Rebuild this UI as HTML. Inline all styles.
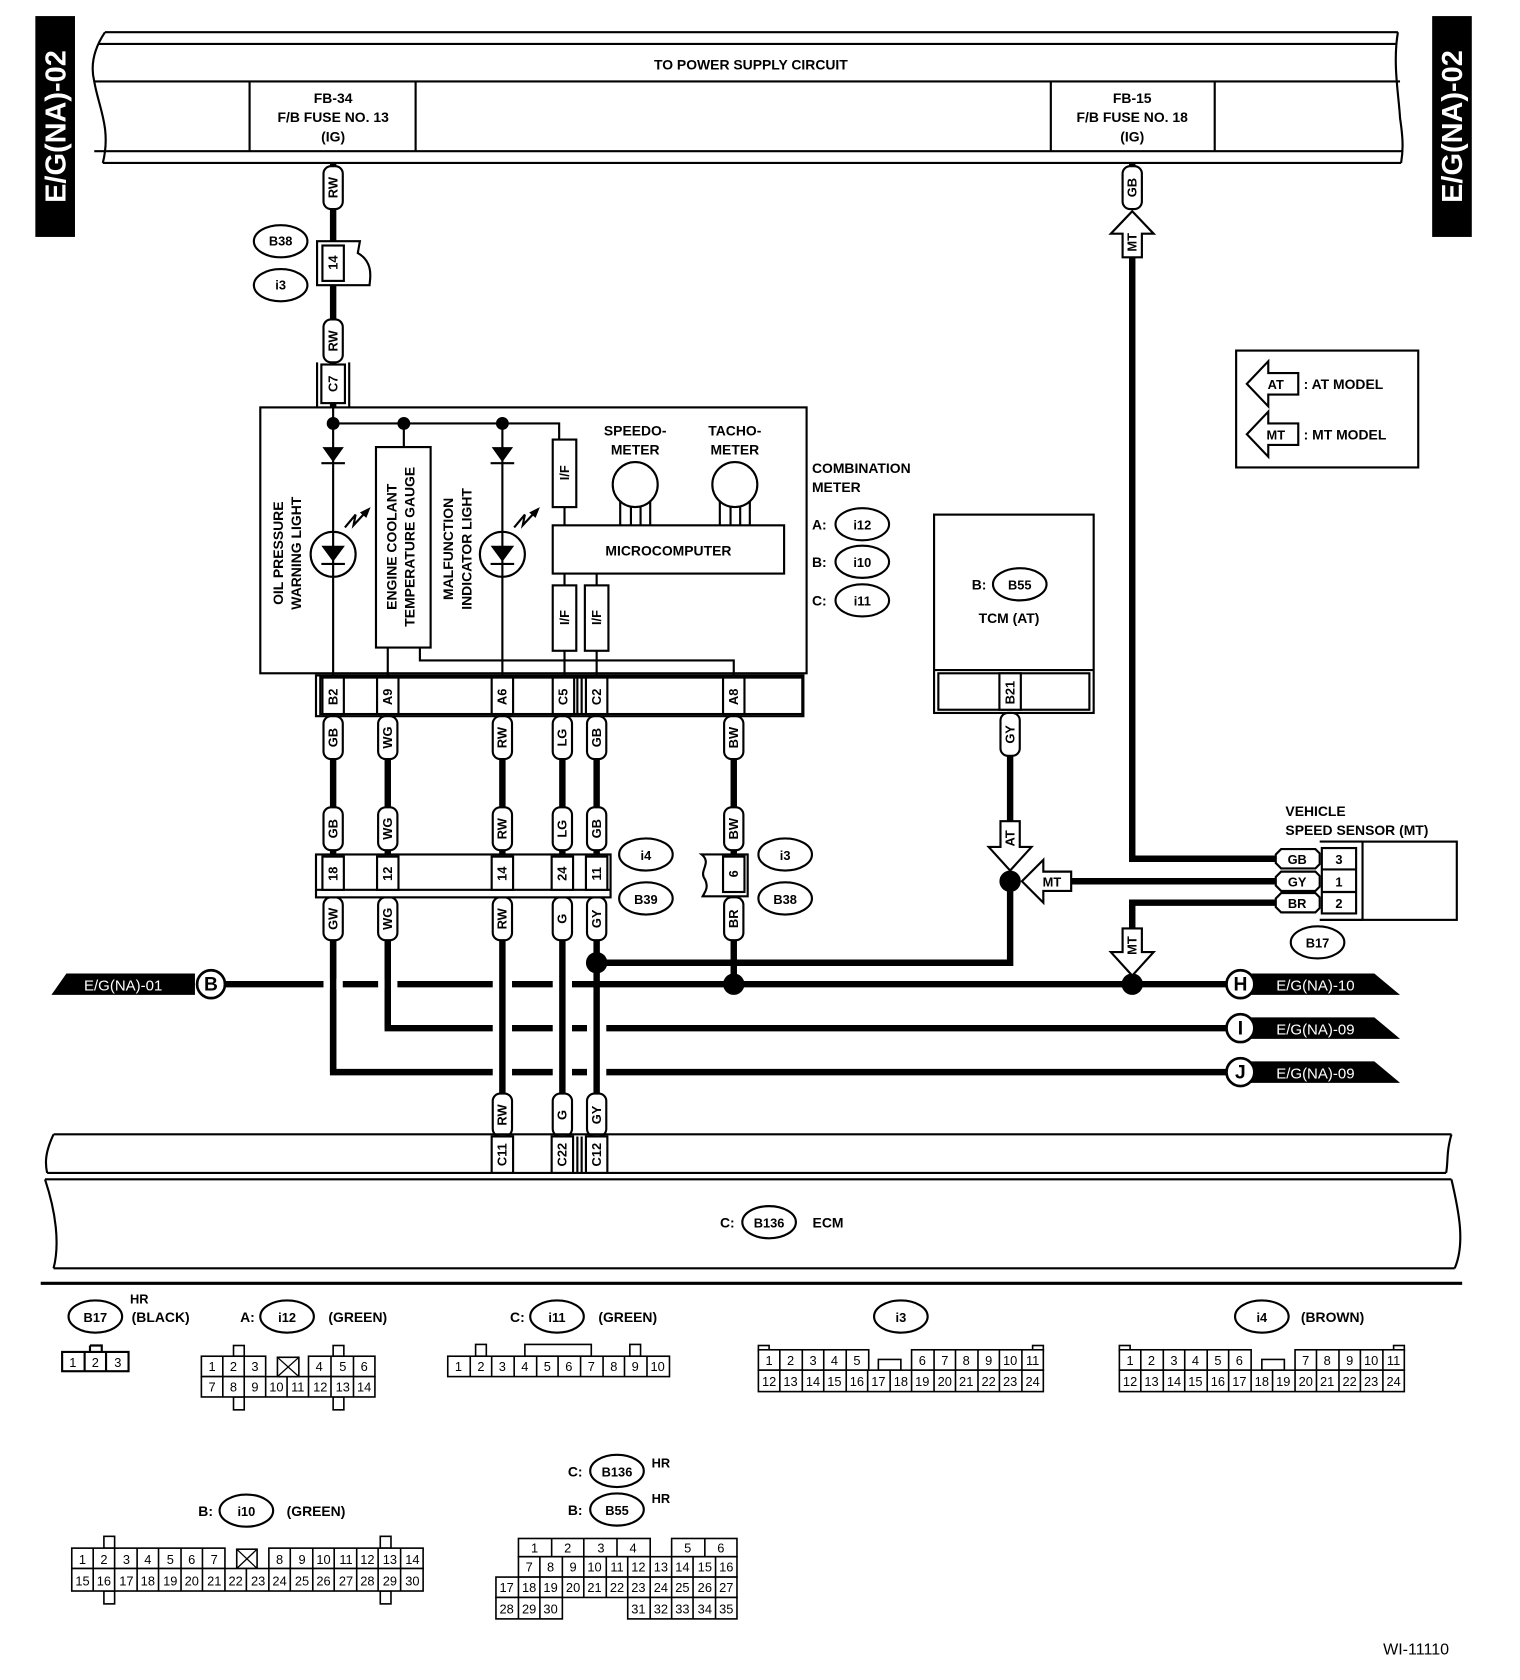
<!DOCTYPE html>
<html><head><meta charset="utf-8">
<style>
html,body{margin:0;padding:0;background:#fff;}
svg{display:block;}
text{font-family:"Liberation Sans",Arial,sans-serif;font-weight:bold;fill:#000;}
.t{font-size:13px;text-anchor:middle;}
.s{font-size:12px;text-anchor:middle;}
.g{font-size:12px;text-anchor:middle;font-weight:normal;}
.ln{stroke:#000;stroke-width:2;fill:none;}
.w{stroke:#000;stroke-width:6;fill:none;}
.cap{fill:#fff;stroke:#000;stroke-width:2;}
</style></head>
<body>
<svg width="1520" height="1680" viewBox="0 0 1419 1567" preserveAspectRatio="none" xmlns="http://www.w3.org/2000/svg">
<rect x="0" y="0" width="1419" height="1567" fill="#fff"/>

<!-- side tabs -->
<rect x="33" y="15" width="37" height="206" fill="#000"/>
<text transform="translate(61,118) rotate(-90)" style="font-size:27px;fill:#fff;text-anchor:middle">E/G(NA)-02</text>
<rect x="1337" y="15" width="37" height="206" fill="#000"/>
<text transform="translate(1365,118) rotate(-90)" style="font-size:27px;fill:#fff;text-anchor:middle">E/G(NA)-02</text>

<!-- power supply box -->
<path class="ln" d="M98,30 L1305,30 M92,41 L1303,41 M88,76 L1307,76 M88,141 L1310,141 M96,152 L1308,152"/>
<path class="ln" d="M98,30 C88,45 84,60 88,76 C92,100 104,120 96,152"/>
<path class="ln" d="M1305,30 C1300,60 1306,90 1307,110 C1310,130 1310,140 1308,152"/>
<path class="ln" d="M233,76 V141 M388,76 V141 M981,76 V141 M1134,76 V141"/>
<text class="t" x="701" y="65">TO POWER SUPPLY CIRCUIT</text>
<text class="t" x="311" y="96">FB-34</text>
<text class="t" x="311" y="114">F/B FUSE NO. 13</text>
<text class="t" x="311" y="132">(IG)</text>
<text class="t" x="1057" y="96">FB-15</text>
<text class="t" x="1057" y="114">F/B FUSE NO. 18</text>
<text class="t" x="1057" y="132">(IG)</text>

<!-- RW wire from FB-34 -->
<path class="w" d="M311,152 V380"/>
<g transform="translate(311,175)"><rect class="cap" x="-9" y="-20" width="18" height="40" rx="7"/><text transform="rotate(-90)" class="s" y="4">RW</text></g>
<path d="M296,225 H336 L334,236 C350,245 345,262 345,266 H296 Z" fill="#fff" stroke="#000" stroke-width="2"/>
<rect x="301" y="229" width="20" height="33" fill="#fff" stroke="#000" stroke-width="2"/>
<text transform="translate(315,245) rotate(-90)" class="s">14</text>
<ellipse cx="262" cy="225" rx="25" ry="15" fill="#fff" stroke="#000" stroke-width="2"/><text class="s" x="262" y="229">B38</text>
<ellipse cx="262" cy="266" rx="25" ry="15" fill="#fff" stroke="#000" stroke-width="2"/><text class="s" x="262" y="270">i3</text>
<g transform="translate(311,318)"><rect class="cap" x="-9" y="-20" width="18" height="40" rx="7"/><text transform="rotate(-90)" class="s" y="4">RW</text></g>
<path class="ln" d="M296,338 V380 M326,338 V380"/>
<rect x="300" y="340" width="22" height="36" fill="#fff" stroke="#000" stroke-width="2"/>
<text transform="translate(315,358) rotate(-90)" class="s">C7</text>

<!-- combination meter -->
<rect x="243" y="380" width="510" height="248" fill="none" stroke="#000" stroke-width="2"/>
<path class="ln" d="M311,380 V630 M311,395 H522 V410"/>
<circle cx="311" cy="395" r="6"/><circle cx="377" cy="395" r="6"/><circle cx="469" cy="395" r="6"/>
<path d="M301,417 H321 L311,431 Z"/><path class="ln" d="M300,432 H322"/>
<path d="M459,417 H479 L469,431 Z"/><path class="ln" d="M458,432 H480"/>
<circle cx="311" cy="517" r="21" fill="none" stroke="#000" stroke-width="2"/>
<path d="M300,509 H322 L311,524 Z"/><path class="ln" d="M300,526 H322"/>
<circle cx="469" cy="517" r="21" fill="none" stroke="#000" stroke-width="2"/>
<path d="M458,509 H480 L469,524 Z"/><path class="ln" d="M458,526 H480"/>
<path class="ln" d="M322,492 L332,480 L330,490 L342,477"/><path d="M346,473 L336,478 L342,483 Z"/>
<path class="ln" d="M480,492 L490,480 L488,490 L500,477"/><path d="M504,473 L494,478 L500,483 Z"/>
<path class="ln" d="M469,395 V630"/>
<path class="ln" d="M377,395 V417"/>
<rect x="351" y="417" width="51" height="187" fill="#fff" stroke="#000" stroke-width="2"/>
<text transform="translate(370,510) rotate(-90)" class="t">ENGINE COOLANT</text>
<text transform="translate(387,510) rotate(-90)" class="t">TEMPERATURE GAUGE</text>
<path class="ln" d="M362,604 V630 M392,604 V616 H685 V630"/>
<text transform="translate(264,516) rotate(-90)" class="t">OIL PRESSURE</text>
<text transform="translate(281,516) rotate(-90)" class="t">WARNING LIGHT</text>
<text transform="translate(423,512) rotate(-90)" class="t">MALFUNCTION</text>
<text transform="translate(440,512) rotate(-90)" class="t">INDICATOR LIGHT</text>
<rect x="516" y="410" width="22" height="63" fill="#fff" stroke="#000" stroke-width="2"/>
<text transform="translate(531,441) rotate(-90)" class="s">I/F</text>
<path class="ln" d="M527,473 V490"/>
<rect x="516" y="490" width="216" height="45" fill="#fff" stroke="#000" stroke-width="2"/>
<text class="t" x="624" y="518">MICROCOMPUTER</text>
<circle cx="593" cy="452" r="21" fill="#fff" stroke="#000" stroke-width="2"/>
<circle cx="686" cy="452" r="21" fill="#fff" stroke="#000" stroke-width="2"/>
<path class="ln" d="M579,467 V490 M589,473 V490 M598,473 V490 M607,467 V490 M672,467 V490 M682,473 V490 M691,473 V490 M700,467 V490"/>
<text class="t" x="593" y="406">SPEEDO-</text><text class="t" x="593" y="424">METER</text>
<text class="t" x="686" y="406">TACHO-</text><text class="t" x="686" y="424">METER</text>
<path class="ln" d="M527,535 V546 M557,535 V546"/>
<rect x="516" y="546" width="22" height="61" fill="#fff" stroke="#000" stroke-width="2"/>
<rect x="546" y="546" width="22" height="61" fill="#fff" stroke="#000" stroke-width="2"/>
<text transform="translate(531,576) rotate(-90)" class="s">I/F</text>
<text transform="translate(561,576) rotate(-90)" class="s">I/F</text>
<path class="ln" d="M527,607 V630 M557,607 V630"/>
<text class="t" x="758" y="441" style="text-anchor:start">COMBINATION</text>
<text class="t" x="758" y="459" style="text-anchor:start">METER</text>
<text class="t" x="758" y="494" style="text-anchor:start">A:</text>
<text class="t" x="758" y="529" style="text-anchor:start">B:</text>
<text class="t" x="758" y="565" style="text-anchor:start">C:</text>
<ellipse cx="805" cy="489" rx="25" ry="15" fill="#fff" stroke="#000" stroke-width="2"/><text class="s" x="805" y="494">i12</text>
<ellipse cx="805" cy="524" rx="25" ry="15" fill="#fff" stroke="#000" stroke-width="2"/><text class="s" x="805" y="529">i10</text>
<ellipse cx="805" cy="560" rx="25" ry="15" fill="#fff" stroke="#000" stroke-width="2"/><text class="s" x="805" y="565">i11</text>
<rect x="295" y="630" width="455" height="38" fill="#fff" stroke="#000" stroke-width="2"/>
<rect x="299" y="632" width="450" height="34" fill="none" stroke="#000" stroke-width="2"/>
<g fill="#fff" stroke="#000" stroke-width="2">
<rect x="301" y="632" width="20" height="34"/><rect x="352" y="632" width="20" height="34"/>
<rect x="459" y="632" width="20" height="34"/><rect x="516" y="632" width="20" height="34"/>
<rect x="547" y="632" width="20" height="34"/><rect x="675" y="632" width="20" height="34"/></g>
<path class="ln" d="M539,632 V666 M543,632 V666"/>
<text transform="translate(315,650) rotate(-90)" class="s">B2</text>
<text transform="translate(366,650) rotate(-90)" class="s">A9</text>
<text transform="translate(473,650) rotate(-90)" class="s">A6</text>
<text transform="translate(530,650) rotate(-90)" class="s">C5</text>
<text transform="translate(561,650) rotate(-90)" class="s">C2</text>
<text transform="translate(689,650) rotate(-90)" class="s">A8</text>

<!-- wires below meter -->
<path class="w" d="M311,668 V797 M362,668 V797 M469,668 V797 M525,668 V797 M557,668 V797 M685,668 V797"/>
<path class="w" d="M210,918 H1150"/>
<path class="w" d="M362,836 V959 H1150"/>
<path class="w" d="M311,836 V1000 H1150"/>
<!-- crossing gaps -->
<g fill="#fff">
<rect x="302" y="913" width="18" height="10"/><rect x="353" y="913" width="18" height="10"/>
<rect x="460" y="913" width="18" height="10"/><rect x="516" y="913" width="18" height="10"/>
<rect x="460" y="954" width="18" height="10"/><rect x="516" y="954" width="18" height="10"/><rect x="548" y="954" width="18" height="10"/>
<rect x="460" y="995" width="18" height="10"/><rect x="516" y="995" width="18" height="10"/><rect x="548" y="995" width="18" height="10"/>
</g>
<path class="w" d="M311,836 V1000 M362,836 V959 M469,836 V1020 M525,836 V1020 M557,836 V1020 M685,836 V918"/>
<path class="w" d="M557,898 H943 V830"/>
<circle cx="557" cy="898" r="10"/><circle cx="685" cy="918" r="10"/><circle cx="1057" cy="918" r="10"/>

<g transform="translate(311,688)"><rect class="cap" x="-9" y="-20" width="18" height="40" rx="7"/><text transform="rotate(-90)" class="s" y="4">GB</text></g>
<g transform="translate(362,688)"><rect class="cap" x="-9" y="-20" width="18" height="40" rx="7"/><text transform="rotate(-90)" class="s" y="4">WG</text></g>
<g transform="translate(469,688)"><rect class="cap" x="-9" y="-20" width="18" height="40" rx="7"/><text transform="rotate(-90)" class="s" y="4">RW</text></g>
<g transform="translate(525,688)"><rect class="cap" x="-9" y="-20" width="18" height="40" rx="7"/><text transform="rotate(-90)" class="s" y="4">LG</text></g>
<g transform="translate(557,688)"><rect class="cap" x="-9" y="-20" width="18" height="40" rx="7"/><text transform="rotate(-90)" class="s" y="4">GB</text></g>
<g transform="translate(685,688)"><rect class="cap" x="-9" y="-20" width="18" height="40" rx="7"/><text transform="rotate(-90)" class="s" y="4">BW</text></g>

<g transform="translate(311,773)"><rect class="cap" x="-9" y="-20" width="18" height="40" rx="7"/><text transform="rotate(-90)" class="s" y="4">GB</text></g>
<g transform="translate(362,773)"><rect class="cap" x="-9" y="-20" width="18" height="40" rx="7"/><text transform="rotate(-90)" class="s" y="4">WG</text></g>
<g transform="translate(469,773)"><rect class="cap" x="-9" y="-20" width="18" height="40" rx="7"/><text transform="rotate(-90)" class="s" y="4">RW</text></g>
<g transform="translate(525,773)"><rect class="cap" x="-9" y="-20" width="18" height="40" rx="7"/><text transform="rotate(-90)" class="s" y="4">LG</text></g>
<g transform="translate(557,773)"><rect class="cap" x="-9" y="-20" width="18" height="40" rx="7"/><text transform="rotate(-90)" class="s" y="4">GB</text></g>
<g transform="translate(685,773)"><rect class="cap" x="-9" y="-20" width="18" height="40" rx="7"/><text transform="rotate(-90)" class="s" y="4">BW</text></g>

<g transform="translate(311,857)"><rect class="cap" x="-9" y="-20" width="18" height="40" rx="7"/><text transform="rotate(-90)" class="s" y="4">GW</text></g>
<g transform="translate(362,857)"><rect class="cap" x="-9" y="-20" width="18" height="40" rx="7"/><text transform="rotate(-90)" class="s" y="4">WG</text></g>
<g transform="translate(469,857)"><rect class="cap" x="-9" y="-20" width="18" height="40" rx="7"/><text transform="rotate(-90)" class="s" y="4">RW</text></g>
<g transform="translate(525,857)"><rect class="cap" x="-9" y="-20" width="18" height="40" rx="7"/><text transform="rotate(-90)" class="s" y="4">G</text></g>
<g transform="translate(557,857)"><rect class="cap" x="-9" y="-20" width="18" height="40" rx="7"/><text transform="rotate(-90)" class="s" y="4">GY</text></g>
<g transform="translate(685,857)"><rect class="cap" x="-9" y="-20" width="18" height="40" rx="7"/><text transform="rotate(-90)" class="s" y="4">BR</text></g>

<g transform="translate(469,1040)"><rect class="cap" x="-9" y="-20" width="18" height="40" rx="7"/><text transform="rotate(-90)" class="s" y="4">RW</text></g>
<g transform="translate(525,1040)"><rect class="cap" x="-9" y="-20" width="18" height="40" rx="7"/><text transform="rotate(-90)" class="s" y="4">G</text></g>
<g transform="translate(557,1040)"><rect class="cap" x="-9" y="-20" width="18" height="40" rx="7"/><text transform="rotate(-90)" class="s" y="4">GY</text></g>

<!-- i4/B39 connector -->
<rect x="295" y="797" width="275" height="40" fill="#fff" stroke="#000" stroke-width="2"/>
<path class="ln" d="M295,830 H570"/>
<g fill="#fff" stroke="#000" stroke-width="2">
<rect x="301" y="799" width="20" height="31"/><rect x="352" y="799" width="20" height="31"/>
<rect x="459" y="799" width="20" height="31"/><rect x="515" y="799" width="20" height="31"/>
<rect x="547" y="799" width="20" height="31"/></g>
<text transform="translate(315,815) rotate(-90)" class="s">18</text>
<text transform="translate(366,815) rotate(-90)" class="s">12</text>
<text transform="translate(473,815) rotate(-90)" class="s">14</text>
<text transform="translate(529,815) rotate(-90)" class="s">24</text>
<text transform="translate(561,815) rotate(-90)" class="s">11</text>
<ellipse cx="603" cy="797" rx="25" ry="15" fill="#fff" stroke="#000" stroke-width="2"/><text class="s" x="603" y="802">i4</text>
<ellipse cx="603" cy="838" rx="25" ry="15" fill="#fff" stroke="#000" stroke-width="2"/><text class="s" x="603" y="843">B39</text>
<path d="M698,797 H655 C665,805 652,812 658,820 C662,828 658,832 656,836 H698 Z" fill="#fff" stroke="#000" stroke-width="2"/>
<rect x="675" y="799" width="20" height="33" fill="#fff" stroke="#000" stroke-width="2"/>
<text transform="translate(689,815) rotate(-90)" class="s">6</text>
<ellipse cx="733" cy="797" rx="25" ry="15" fill="#fff" stroke="#000" stroke-width="2"/><text class="s" x="733" y="802">i3</text>
<ellipse cx="733" cy="838" rx="25" ry="15" fill="#fff" stroke="#000" stroke-width="2"/><text class="s" x="733" y="843">B38</text>

<!-- E/G(NA)-01 B -->
<path d="M62,908 H182 V928 H48 Z" fill="#000"/>
<text x="115" y="924" style="font-size:14px;fill:#fff;text-anchor:middle;font-weight:normal">E/G(NA)-01</text>
<circle cx="197" cy="918" r="13" fill="#fff" stroke="#000" stroke-width="2.5"/><text x="197" y="924" style="font-size:18px;text-anchor:middle">B</text>

<path d="M1165,908 H1283 L1307,928 H1165 Z" fill="#000"/>
<text x="1228" y="924" style="font-size:14px;fill:#fff;text-anchor:middle;font-weight:normal">E/G(NA)-10</text>
<circle cx="1158" cy="918" r="13" fill="#fff" stroke="#000" stroke-width="2.5"/><text x="1158" y="924" style="font-size:18px;text-anchor:middle">H</text>
<path d="M1165,949 H1283 L1307,969 H1165 Z" fill="#000"/>
<text x="1228" y="965" style="font-size:14px;fill:#fff;text-anchor:middle;font-weight:normal">E/G(NA)-09</text>
<circle cx="1158" cy="959" r="13" fill="#fff" stroke="#000" stroke-width="2.5"/><text x="1158" y="965" style="font-size:18px;text-anchor:middle">I</text>
<path d="M1165,990 H1283 L1307,1010 H1165 Z" fill="#000"/>
<text x="1228" y="1006" style="font-size:14px;fill:#fff;text-anchor:middle;font-weight:normal">E/G(NA)-09</text>
<circle cx="1158" cy="1000" r="13" fill="#fff" stroke="#000" stroke-width="2.5"/><text x="1158" y="1006" style="font-size:18px;text-anchor:middle">J</text>

<!-- TCM -->
<rect x="872" y="480" width="149" height="185" fill="none" stroke="#000" stroke-width="2"/>
<path class="ln" d="M872,625 H1021"/>
<rect x="876" y="628" width="141" height="34" fill="none" stroke="#000" stroke-width="2"/>
<rect x="933" y="628" width="20" height="34" fill="#fff" stroke="#000" stroke-width="2"/>
<text transform="translate(947,646) rotate(-90)" class="s">B21</text>
<text class="t" x="914" y="550">B:</text>
<ellipse cx="952" cy="545" rx="25" ry="15" fill="#fff" stroke="#000" stroke-width="2"/><text class="s" x="952" y="550">B55</text>
<text class="t" x="942" y="581">TCM (AT)</text>
<path class="w" d="M943,665 V800"/>
<g transform="translate(943,685)"><rect class="cap" x="-9" y="-20" width="18" height="40" rx="7"/><text transform="rotate(-90)" class="s" y="4">GY</text></g>
<path d="M934,766 H952 V790 H963 L943,812 L923,790 H934 Z" fill="#fff" stroke="#000" stroke-width="2"/>
<text transform="translate(947,782) rotate(-90)" class="s">AT</text>
<circle cx="943" cy="822" r="10"/>
<path d="M954,822 L974,802 V813 H1000 V831 H974 V842 Z" fill="#fff" stroke="#000" stroke-width="2"/>
<text class="s" x="982" y="827">MT</text>
<path class="w" d="M1000,822 H1192"/>
<path class="w" d="M1057,152 V195"/>
<g transform="translate(1057,175)"><rect class="cap" x="-9" y="-20" width="18" height="40" rx="7"/><text transform="rotate(-90)" class="s" y="4">GB</text></g>
<path d="M1057,197 L1077,218 H1066 V240 H1048 V218 H1037 Z" fill="#fff" stroke="#000" stroke-width="2"/>
<text transform="translate(1061,226) rotate(-90)" class="s">MT</text>
<path class="w" d="M1057,240 V801 H1192"/>
<path class="w" d="M1192,842 H1057 V866"/>
<path d="M1048,866 H1066 V888 H1077 L1057,910 L1037,888 H1048 Z" fill="#fff" stroke="#000" stroke-width="2"/>
<text transform="translate(1061,882) rotate(-90)" class="s">MT</text>
<text class="t" x="1200" y="761" style="text-anchor:start">VEHICLE</text>
<text class="t" x="1200" y="779" style="text-anchor:start">SPEED SENSOR (MT)</text>
<rect x="1272" y="785" width="88" height="73" fill="none" stroke="#000" stroke-width="2"/>
<path class="ln" d="M1232,785 H1272 M1232,858 H1272"/>
<rect x="1234" y="791" width="32" height="61" fill="#fff" stroke="#000" stroke-width="2"/>
<path class="ln" d="M1234,811 H1266 M1234,832 H1266"/>
<text class="s" x="1250" y="806">3</text><text class="s" x="1250" y="827">1</text><text class="s" x="1250" y="847">2</text>
<g fill="#fff" stroke="#000" stroke-width="2">
<path d="M1196,792 H1228 L1232,796 V806 L1228,810 H1196 L1191,805 V797 Z"/>
<path d="M1196,813 H1228 L1232,817 V827 L1228,831 H1196 L1191,826 V818 Z"/>
<path d="M1196,833 H1228 L1232,837 V847 L1228,851 H1196 L1191,846 V838 Z"/></g>
<text class="s" x="1211" y="806">GB</text><text class="s" x="1211" y="827">GY</text><text class="s" x="1211" y="847">BR</text>
<ellipse cx="1230" cy="879" rx="25" ry="15" fill="#fff" stroke="#000" stroke-width="2"/><text class="s" x="1230" y="884">B17</text>

<!-- legend -->
<rect x="1154" y="327" width="170" height="109" fill="none" stroke="#000" stroke-width="2"/>
<path d="M1164,358 L1184,337 V348 H1212 V368 H1184 V379 Z" fill="#fff" stroke="#000" stroke-width="2"/>
<text class="s" x="1191" y="363">AT</text>
<text class="t" x="1217" y="363" style="text-anchor:start">: AT MODEL</text>
<path d="M1164,405 L1184,384 V395 H1212 V415 H1184 V426 Z" fill="#fff" stroke="#000" stroke-width="2"/>
<text class="s" x="1191" y="410">MT</text>
<text class="t" x="1217" y="410" style="text-anchor:start">: MT MODEL</text>

<!-- ECM -->
<path class="ln" d="M50,1058 H1355 M44,1094 H1350 M42,1100 H1355 M50,1183 H1358"/>
<path class="ln" d="M50,1058 C42,1075 42,1085 44,1094 M1355,1058 C1350,1075 1352,1085 1350,1094"/>
<path class="ln" d="M42,1100 C52,1130 56,1160 50,1183 M1355,1100 C1362,1130 1368,1160 1358,1183"/>
<g fill="#fff" stroke="#000" stroke-width="2">
<rect x="459" y="1060" width="20" height="34"/><rect x="515" y="1060" width="20" height="34"/><rect x="547" y="1060" width="20" height="34"/></g>
<path class="ln" d="M539,1060 V1094 M543,1060 V1094"/>
<text transform="translate(473,1077) rotate(-90)" class="s">C11</text>
<text transform="translate(529,1077) rotate(-90)" class="s">C22</text>
<text transform="translate(561,1077) rotate(-90)" class="s">C12</text>
<text class="t" x="679" y="1145">C:</text>
<ellipse cx="718" cy="1140" rx="25" ry="15" fill="#fff" stroke="#000" stroke-width="2"/><text class="s" x="718" y="1145">B136</text>
<text class="t" x="773" y="1145">ECM</text>

<path d="M38,1197 H1365" stroke="#000" stroke-width="3"/>

<!-- bottom connectors -->
<g>
<ellipse cx="89" cy="1228" rx="25" ry="15" fill="#fff" stroke="#000" stroke-width="2"/><text class="s" x="89" y="1233">B17</text>
<text class="s" x="130" y="1216">HR</text><text class="t" x="150" y="1233">(BLACK)</text>
<rect x="58" y="1261" width="62" height="18" fill="#fff" stroke="#000" stroke-width="2"/>
<path class="ln" d="M79,1261 V1279 M99,1261 V1279 M84,1255 H95 V1261 M84,1255 V1261"/>
<text class="g" x="68" y="1275">1</text><text class="g" x="89" y="1275">2</text><text class="g" x="110" y="1275">3</text>

<text class="t" x="231" y="1233">A:</text>
<ellipse cx="268" cy="1228" rx="25" ry="15" fill="#fff" stroke="#000" stroke-width="2"/><text class="s" x="268" y="1233">i12</text>
<text class="t" x="334" y="1233">(GREEN)</text>
<g fill="#fff" stroke="#000" stroke-width="1.5">
<rect x="218" y="1255" width="10" height="10"/><rect x="311" y="1255" width="10" height="10"/>
<rect x="218" y="1303" width="10" height="12"/><rect x="311" y="1303" width="10" height="12"/>
<rect x="188" y="1265" width="60" height="19"/><rect x="288" y="1265" width="62" height="19"/>
<rect x="188" y="1284" width="162" height="19"/>
<rect x="259" y="1266" width="20" height="18"/></g>
<path d="M259,1266 L279,1284 M279,1266 L259,1284" stroke="#000" stroke-width="1.2"/>
<path stroke="#000" stroke-width="1.5" d="M208,1265 V1303 M228,1265 V1303 M248,1284 V1303 M268,1284 V1303 M288,1284 V1303 M309,1265 V1303 M330,1265 V1303"/>
<text class="g" x="198" y="1279">1</text><text class="g" x="218" y="1279">2</text><text class="g" x="238" y="1279">3</text>
<text class="g" x="298" y="1279">4</text><text class="g" x="320" y="1279">5</text><text class="g" x="340" y="1279">6</text>
<text class="g" x="198" y="1298">7</text><text class="g" x="218" y="1298">8</text><text class="g" x="238" y="1298">9</text>
<text class="g" x="258" y="1298">10</text><text class="g" x="278" y="1298">11</text><text class="g" x="299" y="1298">12</text><text class="g" x="320" y="1298">13</text><text class="g" x="340" y="1298">14</text>

<text class="t" x="483" y="1233">C:</text>
<ellipse cx="520" cy="1228" rx="25" ry="15" fill="#fff" stroke="#000" stroke-width="2"/><text class="s" x="520" y="1233">i11</text>
<text class="t" x="586" y="1233">(GREEN)</text>
<g fill="#fff" stroke="#000" stroke-width="1.5">
<rect x="444" y="1254" width="10" height="11"/><rect x="490" y="1254" width="62" height="11"/><rect x="588" y="1254" width="10" height="11"/>
<rect x="418" y="1265" width="207" height="19"/></g>
<path stroke="#000" stroke-width="1.5" d="M439,1265 V1284 M459,1265 V1284 M480,1265 V1284 M501,1265 V1284 M521,1265 V1284 M542,1265 V1284 M563,1265 V1284 M583,1265 V1284 M604,1265 V1284"/>
<text class="g" x="428" y="1279">1</text><text class="g" x="449" y="1279">2</text><text class="g" x="469" y="1279">3</text><text class="g" x="490" y="1279">4</text><text class="g" x="511" y="1279">5</text><text class="g" x="531" y="1279">6</text><text class="g" x="552" y="1279">7</text><text class="g" x="573" y="1279">8</text><text class="g" x="593" y="1279">9</text><text class="g" x="614" y="1279">10</text>

<ellipse cx="841" cy="1228" rx="25" ry="15" fill="#fff" stroke="#000" stroke-width="2"/><text class="s" x="841" y="1233">i3</text>
<g fill="#fff" stroke="#000" stroke-width="1.5">
<rect x="708" y="1255" width="10" height="5"/><rect x="964" y="1255" width="10" height="5"/>
<rect x="708" y="1259" width="103" height="19"/><rect x="851" y="1259" width="123" height="19"/>
<rect x="820" y="1268" width="21" height="10"/>
<rect x="708" y="1278" width="266" height="20"/></g>
<path stroke="#000" stroke-width="1.5" d="M728,1259 V1298 M749,1259 V1298 M769,1259 V1298 M790,1259 V1298 M810,1278 V1298 M831,1278 V1298 M851,1278 V1298 M872,1259 V1298 M892,1259 V1298 M913,1259 V1298 M933,1259 V1298 M954,1259 V1298"/>
<text class="g" x="718" y="1273">1</text><text class="g" x="738" y="1273">2</text><text class="g" x="759" y="1273">3</text><text class="g" x="779" y="1273">4</text><text class="g" x="800" y="1273">5</text>
<text class="g" x="861" y="1273">6</text><text class="g" x="882" y="1273">7</text><text class="g" x="902" y="1273">8</text><text class="g" x="923" y="1273">9</text><text class="g" x="943" y="1273">10</text><text class="g" x="964" y="1273">11</text>
<text class="g" x="718" y="1293">12</text><text class="g" x="738" y="1293">13</text><text class="g" x="759" y="1293">14</text><text class="g" x="779" y="1293">15</text><text class="g" x="800" y="1293">16</text><text class="g" x="820" y="1293">17</text><text class="g" x="841" y="1293">18</text><text class="g" x="861" y="1293">19</text><text class="g" x="882" y="1293">20</text><text class="g" x="902" y="1293">21</text><text class="g" x="923" y="1293">22</text><text class="g" x="943" y="1293">23</text><text class="g" x="964" y="1293">24</text>

<ellipse cx="1178" cy="1228" rx="25" ry="15" fill="#fff" stroke="#000" stroke-width="2"/><text class="s" x="1178" y="1233">i4</text>
<text class="t" x="1244" y="1233">(BROWN)</text>
<g fill="#fff" stroke="#000" stroke-width="1.5">
<rect x="1045" y="1255" width="10" height="5"/><rect x="1301" y="1255" width="10" height="5"/>
<rect x="1045" y="1259" width="123" height="19"/><rect x="1209" y="1259" width="102" height="19"/>
<rect x="1178" y="1268" width="21" height="10"/>
<rect x="1045" y="1278" width="266" height="20"/></g>
<path stroke="#000" stroke-width="1.5" d="M1065,1259 V1298 M1086,1259 V1298 M1106,1259 V1298 M1127,1259 V1298 M1147,1259 V1298 M1168,1278 V1298 M1188,1278 V1298 M1209,1278 V1298 M1229,1259 V1298 M1250,1259 V1298 M1270,1259 V1298 M1291,1259 V1298"/>
<text class="g" x="1055" y="1273">1</text><text class="g" x="1075" y="1273">2</text><text class="g" x="1096" y="1273">3</text><text class="g" x="1116" y="1273">4</text><text class="g" x="1137" y="1273">5</text><text class="g" x="1157" y="1273">6</text>
<text class="g" x="1219" y="1273">7</text><text class="g" x="1239" y="1273">8</text><text class="g" x="1260" y="1273">9</text><text class="g" x="1280" y="1273">10</text><text class="g" x="1301" y="1273">11</text>
<text class="g" x="1055" y="1293">12</text><text class="g" x="1075" y="1293">13</text><text class="g" x="1096" y="1293">14</text><text class="g" x="1116" y="1293">15</text><text class="g" x="1137" y="1293">16</text><text class="g" x="1157" y="1293">17</text><text class="g" x="1178" y="1293">18</text><text class="g" x="1198" y="1293">19</text><text class="g" x="1219" y="1293">20</text><text class="g" x="1239" y="1293">21</text><text class="g" x="1260" y="1293">22</text><text class="g" x="1280" y="1293">23</text><text class="g" x="1301" y="1293">24</text>

<text class="t" x="192" y="1414">B:</text>
<ellipse cx="230" cy="1409" rx="25" ry="15" fill="#fff" stroke="#000" stroke-width="2"/><text class="s" x="230" y="1414">i10</text>
<text class="t" x="295" y="1414">(GREEN)</text>
<g fill="#fff" stroke="#000" stroke-width="1.5">
<rect x="97" y="1433" width="10" height="11"/><rect x="355" y="1433" width="10" height="11"/>
<rect x="97" y="1484" width="10" height="12"/><rect x="355" y="1484" width="10" height="12"/>
<rect x="67" y="1444" width="143" height="19"/><rect x="251" y="1444" width="144" height="19"/>
<rect x="221" y="1445" width="19" height="18"/>
<rect x="67" y="1463" width="328" height="21"/></g>
<path d="M221,1445 L240,1463 M240,1445 L221,1463" stroke="#000" stroke-width="1.2"/>
<path stroke="#000" stroke-width="1.5" d="M87,1444 V1484 M107,1444 V1484 M128,1444 V1484 M148,1444 V1484 M169,1444 V1484 M189,1444 V1484 M210,1463 V1484 M230,1463 V1484 M251,1463 V1484 M271,1444 V1484 M292,1444 V1484 M312,1444 V1484 M333,1444 V1484 M353,1444 V1484 M374,1444 V1484"/>
<text class="g" x="77" y="1459">1</text><text class="g" x="97" y="1459">2</text><text class="g" x="118" y="1459">3</text><text class="g" x="138" y="1459">4</text><text class="g" x="159" y="1459">5</text><text class="g" x="179" y="1459">6</text><text class="g" x="200" y="1459">7</text>
<text class="g" x="261" y="1459">8</text><text class="g" x="282" y="1459">9</text><text class="g" x="302" y="1459">10</text><text class="g" x="323" y="1459">11</text><text class="g" x="343" y="1459">12</text><text class="g" x="364" y="1459">13</text><text class="g" x="385" y="1459">14</text>
<text class="g" x="77" y="1479">15</text><text class="g" x="97" y="1479">16</text><text class="g" x="118" y="1479">17</text><text class="g" x="138" y="1479">18</text><text class="g" x="159" y="1479">19</text><text class="g" x="179" y="1479">20</text><text class="g" x="200" y="1479">21</text><text class="g" x="220" y="1479">22</text><text class="g" x="241" y="1479">23</text><text class="g" x="261" y="1479">24</text><text class="g" x="282" y="1479">25</text><text class="g" x="302" y="1479">26</text><text class="g" x="323" y="1479">27</text><text class="g" x="343" y="1479">28</text><text class="g" x="364" y="1479">29</text><text class="g" x="385" y="1479">30</text>

<text class="t" x="537" y="1377">C:</text>
<ellipse cx="576" cy="1372" rx="25" ry="15" fill="#fff" stroke="#000" stroke-width="2"/><text class="s" x="576" y="1377">B136</text>
<text class="s" x="617" y="1369">HR</text>
<text class="t" x="537" y="1413">B:</text>
<ellipse cx="576" cy="1408" rx="25" ry="15" fill="#fff" stroke="#000" stroke-width="2"/><text class="s" x="576" y="1413">B55</text>
<text class="s" x="617" y="1402">HR</text>
<g fill="#fff" stroke="#000" stroke-width="1.5">
<rect x="484" y="1435" width="123" height="17"/><rect x="627" y="1435" width="61" height="17"/>
<rect x="484" y="1452" width="204" height="19"/>
<rect x="463" y="1471" width="225" height="19"/>
<rect x="463" y="1490" width="62" height="20"/><rect x="586" y="1490" width="102" height="20"/></g>
<path stroke="#000" stroke-width="1.5" d="M515,1435 V1452 M545,1435 V1452 M576,1435 V1452 M658,1435 V1452
M504,1452 V1471 M525,1452 V1471 M545,1452 V1471 M566,1452 V1471 M586,1452 V1471 M607,1452 V1471 M627,1452 V1471 M647,1452 V1471 M668,1452 V1471
M484,1471 V1510 M504,1471 V1510 M525,1471 V1490 M545,1471 V1490 M566,1471 V1490 M586,1471 V1490 M607,1471 V1510 M627,1471 V1510 M647,1471 V1510 M668,1471 V1510"/>
<text class="g" x="499" y="1448">1</text><text class="g" x="530" y="1448">2</text><text class="g" x="561" y="1448">3</text><text class="g" x="591" y="1448">4</text><text class="g" x="642" y="1448">5</text><text class="g" x="673" y="1448">6</text>
<text class="g" x="494" y="1466">7</text><text class="g" x="514" y="1466">8</text><text class="g" x="535" y="1466">9</text><text class="g" x="555" y="1466">10</text><text class="g" x="576" y="1466">11</text><text class="g" x="596" y="1466">12</text><text class="g" x="617" y="1466">13</text><text class="g" x="637" y="1466">14</text><text class="g" x="658" y="1466">15</text><text class="g" x="678" y="1466">16</text>
<text class="g" x="473" y="1485">17</text><text class="g" x="494" y="1485">18</text><text class="g" x="514" y="1485">19</text><text class="g" x="535" y="1485">20</text><text class="g" x="555" y="1485">21</text><text class="g" x="576" y="1485">22</text><text class="g" x="596" y="1485">23</text><text class="g" x="617" y="1485">24</text><text class="g" x="637" y="1485">25</text><text class="g" x="658" y="1485">26</text><text class="g" x="678" y="1485">27</text>
<text class="g" x="473" y="1505">28</text><text class="g" x="494" y="1505">29</text><text class="g" x="514" y="1505">30</text><text class="g" x="596" y="1505">31</text><text class="g" x="617" y="1505">32</text><text class="g" x="637" y="1505">33</text><text class="g" x="658" y="1505">34</text><text class="g" x="678" y="1505">35</text>
</g>

<text x="1322" y="1543" style="font-size:15px;text-anchor:middle;font-weight:normal">WI-11110</text>
</svg>
</body></html>
